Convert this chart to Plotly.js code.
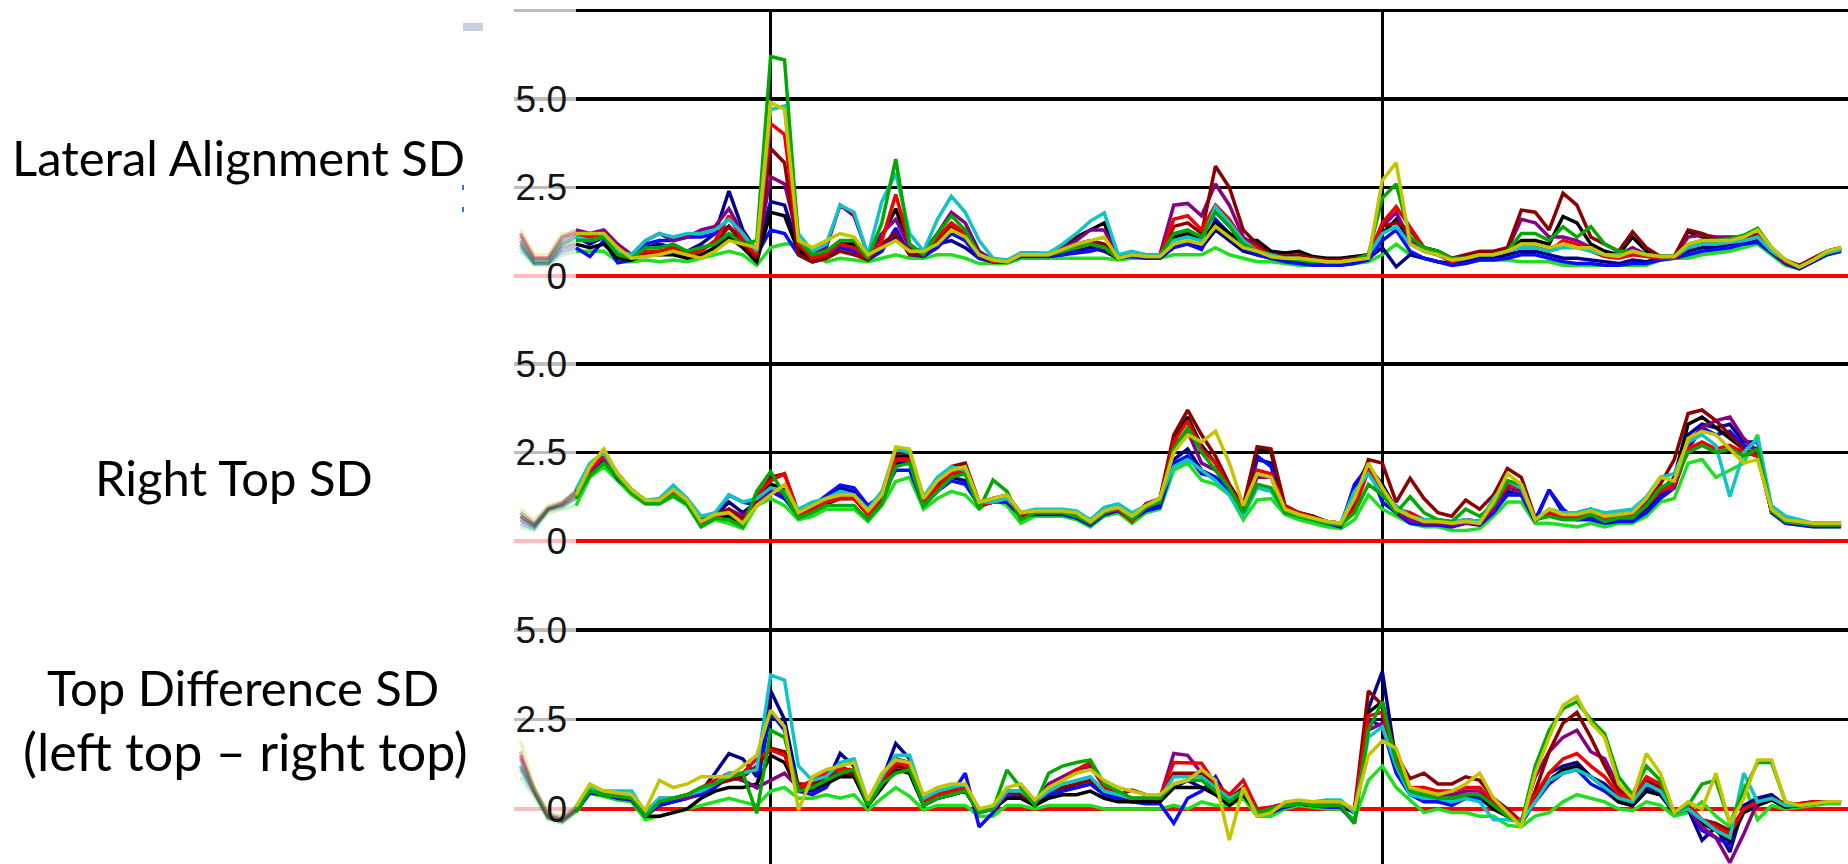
<!DOCTYPE html>
<html>
<head>
<meta charset="utf-8">
<script src="https://cdn.plot.ly/plotly-3.0.1.min.js"></script>
<style>
html,body{margin:0;padding:0;background:#fff;}
#chart{width:1848px;height:864px;}
</style>
</head>
<body>
<div id="chart"></div>
<script>
// Sample index: -4 .. 91 (first 5 samples lie in the faded left margin)
const sampleStart = -4, sampleCount = 96;
const panelTitles = ['Lateral Alignment SD', 'Right Top SD', 'Top Difference SD', '(left top \u2013 right top)'];
const tickVals = [0, 2.5, 5, 7.5];
const tickText = ['0', '2.5', '5.0', ''];
const markerSamples = [14, 58];

// ---------- Panel 1: Lateral Alignment SD ----------
const p1_navy = [1.0,.4,.4,.9,1.1,.9,1.1,.6,.5,.8, .9,.8,.7,.9,1.2,2.4,1.3,.7,2.1,2.0, .8,.5,.6,.9,.8,.5,.8,1.1,.7,.6, .9,1.0,.8,.5,.4,.4,.6,.6,.55,.6, .7,.8,.7,.5,.6,.55,.55,.9,.9,.8, 1.3,1.0,.7,.6,.5,.45,.4,.35,.35,.35, .4,.5,.8,.26,.6,.5,.4,.35,.4,.5, .5,.6,.7,.7,.6,.5,.5,.45,.4,.35, .45,.4,.5,.55,.7,.8,.8,.9,.9,1.0, .7,.4,.25,.45,.65,.75];
const p1_blue = [.8,.35,.35,.7,.8,.55,1.0,.37,.45,.9, 1.0,1.0,1.1,1.1,1.2,1.4,1.0,.6,1.3,1.2, .6,.4,.5,.8,.7,.45,.7,1.35,.6,.55, .8,1.2,1.0,.5,.4,.4,.55,.55,.55,.6, .65,.7,.8,.5,.55,.5,.5,.8,.9,.75, 1.6,1.2,.8,.6,.5,.4,.35,.3,.3,.3, .35,.45,1.0,1.3,.7,.5,.4,.3,.35,.45, .45,.5,.6,.6,.5,.4,.35,.35,.3,.3, .35,.35,.45,.5,.6,.7,.75,.8,.9,.95, .65,.35,.2,.4,.6,.7];
const p1_darkred = [1.2,.5,.5,1.1,1.2,1.1,1.2,.8,.5,.6, .6,.7,.6,.8,.9,1.4,.9,.5,3.6,3.2, .6,.4,.5,.7,.6,.45,.9,1.2,.6,.6, 1.0,1.4,1.1,.6,.4,.4,.6,.6,.6,.7, .9,1.0,.9,.5,.6,.55,.55,1.4,1.5,1.2, 3.1,2.5,1.3,.9,.6,.55,.6,.5,.45,.45, .5,.6,1.4,1.5,1.3,.8,.7,.5,.6,.7, .7,.8,1.86,1.8,1.3,2.34,2.0,1.1,.9,.7, 1.25,.8,.55,.55,1.3,1.2,1.05,1.0,1.1,1.2, .75,.45,.3,.5,.7,.8];
const p1_red = [1.1,.5,.5,1.0,1.2,1.1,1.2,.7,.5,.7, .7,.8,.6,.7,1.0,1.7,1.0,.6,4.3,4.0, .9,.5,.6,.9,.8,.5,1.0,2.3,.9,.6, 1.1,1.5,1.2,.6,.4,.4,.6,.6,.6,.7, .8,.9,.8,.5,.6,.55,.55,1.6,1.7,1.3, 2.0,1.6,1.0,.8,.55,.5,.5,.45,.4,.4, .45,.55,1.5,1.96,1.39,.8,.6,.4,.5,.6, .6,.7,.9,.9,.7,1.0,.9,.7,.55,.5, .6,.55,.5,.5,.8,.9,.9,.95,1.0,1.1, .7,.4,.25,.45,.65,.75];
const p1_green = [.9,.4,.45,.9,1.0,1.0,1.1,.6,.5,.8, .8,.9,.7,.8,.9,1.2,.9,1.0,6.2,6.1, 1.0,.6,.7,1.0,1.0,.5,1.5,3.3,.9,.6, 1.2,1.7,1.3,.6,.45,.4,.6,.6,.6,.7, .8,.9,.8,.5,.6,.55,.55,1.2,1.3,1.1, 1.8,1.4,.9,.7,.55,.5,.45,.4,.4,.4, .45,.6,2.2,2.6,1.1,.8,.7,.5,.5,.6, .6,.7,1.2,1.2,1.0,1.39,1.1,1.39,.9,.7, .7,.6,.55,.55,.9,1.0,1.0,1.05,1.15,1.35, .8,.45,.25,.45,.7,.8];
const p1_lime = [.7,.3,.3,.6,.7,.7,.7,.4,.4,.45, .4,.45,.4,.5,.6,.7,.6,.3,.8,.9, .9,.6,.4,.5,.45,.4,.5,.6,.5,.5, .6,.6,.5,.35,.35,.35,.5,.5,.5,.5, .5,.5,.5,.45,.5,.5,.5,.6,.6,.6, .8,.6,.5,.4,.4,.35,.3,.3,.3,.3, .35,.4,.6,.9,.6,.5,.4,.35,.4,.45, .45,.45,.4,.4,.4,.3,.3,.3,.3,.3, .3,.3,.45,.5,.5,.6,.65,.7,.8,.9, .6,.3,.2,.4,.6,.7];
const p1_cyan = [1.0,.4,.4,1.0,1.1,1.0,1.1,.7,.6,1.0, 1.2,1.1,1.2,1.2,1.3,1.6,1.2,.7,4.7,4.8, 1.2,.7,.9,2.0,1.8,.6,2.1,2.9,1.2,.7, 1.6,2.25,1.8,1.0,.5,.45,.65,.65,.65,.9, 1.2,1.55,1.78,.6,.7,.6,.6,1.0,1.1,1.0, 1.96,1.5,1.0,.7,.6,.5,.5,.45,.4,.4, .45,.6,1.2,1.4,.9,.7,.6,.45,.5,.6, .6,.7,.8,.8,.7,.8,.8,.7,.6,.6, .7,.6,.55,.55,.8,.9,.9,.95,1.0,1.1, .7,.45,.25,.45,.65,.75];
const p1_purple = [1.2,.5,.5,1.1,1.3,1.2,1.3,.9,.6,1.0, 1.2,1.0,1.1,1.3,1.4,1.9,1.2,.6,2.8,2.6, 1.0,.6,.8,2.0,1.7,.6,1.2,1.6,.8,.7, 1.2,1.8,1.5,.7,.45,.4,.65,.65,.6,.8, 1.0,1.3,1.3,.55,.65,.6,.6,2.0,2.05,1.7, 2.6,2.0,1.1,.8,.6,.55,.55,.5,.45,.45, .5,.6,1.4,1.8,1.0,.8,.7,.5,.55,.65, .65,.75,1.6,1.5,1.1,1.1,1.0,.8,.6,.6, .8,.6,.55,.55,1.1,1.16,1.1,1.1,1.1,1.15, .75,.45,.28,.5,.7,.8];
const p1_black = [.9,.35,.35,.8,.9,.8,.9,.5,.45,.6, .6,.6,.5,.6,.8,1.1,.8,.4,1.8,1.7, .7,.5,.6,.9,.9,.5,1.1,1.9,.8,.6, 1.1,1.4,1.2,.6,.4,.4,.6,.6,.6,.8, 1.1,1.3,1.5,.5,.6,.55,.55,1.1,1.2,1.0, 1.5,1.2,1.0,1.0,.7,.65,.7,.55,.5,.5, .55,.6,1.2,1.6,1.0,.7,.6,.45,.5,.6, .6,.7,1.0,1.0,.9,1.68,1.5,.9,.7,.6, 1.1,.7,.55,.55,1.25,1.1,1.0,1.0,1.05,1.1, .7,.4,.25,.45,.65,.75];
const p1_yellow = [1.3,.6,.6,1.2,1.2,1.2,1.2,.8,.5,.55, .6,.7,.6,.5,.7,1.0,.9,.8,4.9,4.7, 1.0,.8,1.0,1.2,1.1,.6,.8,1.0,.7,.7, .9,1.3,1.1,.6,.45,.4,.6,.6,.6,.75, .9,1.0,1.1,.5,.6,.55,.55,.9,1.0,.9, 1.4,1.1,.8,.7,.55,.5,.5,.45,.4,.4, .45,.5,2.7,3.2,.9,.7,.6,.45,.5,.6, .6,.7,.9,.9,.8,.9,.8,.8,.6,.55, .7,.6,.55,.55,.9,1.0,1.0,1.0,1.1,1.3, .8,.45,.25,.45,.7,.8];

// ---------- Panel 2: Right Top SD ----------
const p2_navy = [.6,.4,.9,1.0,1.2,2.0,2.4,1.8,1.4,1.1, 1.1,1.35,1.1,.6,.7,1.1,.8,1.1,1.5,1.2, .8,1.0,1.2,1.5,1.4,.9,1.2,2.2,2.2,1.1, 1.5,1.8,1.7,1.0,1.2,1.1,.7,.8,.8,.8, .7,.5,.8,.9,.7,.9,1.0,2.3,2.6,2.0, 1.8,1.5,.9,2.3,2.2,.9,.75,.65,.5,.45, 1.5,2.2,1.3,.9,.6,.5,.5,.5,.6,.5, .9,1.4,1.3,.6,1.44,.8,.7,.7,.55,.6, .6,.9,1.3,1.6,3.0,3.3,3.2,3.3,2.8,2.8, .85,.55,.5,.45,.45,.45];
const p2_blue = [.5,.35,.9,1.0,1.3,1.9,2.3,1.75,1.4,1.1, 1.1,1.3,1.1,.5,.7,1.3,1.1,1.0,1.4,1.2, .7,1.0,1.3,1.58,1.5,1.0,1.3,2.0,2.0,1.0, 1.4,1.7,1.6,1.0,1.1,1.1,.7,.75,.75,.75, .65,.45,.75,.85,.6,.85,.95,2.2,2.4,1.9, 1.8,1.4,.8,2.4,2.1,.85,.7,.6,.5,.4, 1.6,2.1,1.1,.8,.5,.45,.45,.4,.5,.45, .8,1.3,1.3,.55,1.44,.9,.6,.6,.5,.55, .55,.8,1.2,1.5,2.8,3.2,3.0,3.1,2.7,2.6, .8,.5,.45,.4,.4,.4];
const p2_darkred = [.8,.5,.95,1.1,1.4,2.1,2.5,1.9,1.45,1.15, 1.15,1.4,1.1,.55,.75,.9,.6,1.2,1.8,1.9, .8,.9,1.1,1.3,1.3,.8,1.2,2.5,2.5,1.2, 1.6,2.1,2.2,1.1,1.2,1.3,.8,.85,.85,.85, .8,.55,.85,.9,.6,1.05,1.2,3.0,3.7,3.0, 2.4,1.6,1.0,2.66,2.6,1.0,.8,.7,.55,.5, 1.1,2.3,2.2,1.1,1.77,1.2,.8,.7,1.16,.9, 1.3,2.05,1.8,.65,.7,.7,.8,.9,.7,.75, .8,1.1,1.6,2.3,3.6,3.7,3.4,3.0,2.6,2.4, .9,.6,.55,.5,.5,.5];
const p2_red = [.7,.45,.9,1.05,1.35,2.0,2.4,1.85,1.4,1.1, 1.1,1.4,1.15,.5,.7,.8,.5,1.3,1.7,1.9, .75,.85,1.1,1.2,1.2,.75,1.1,2.3,2.3,1.1, 1.5,1.9,2.0,1.0,1.1,1.2,.75,.85,.85,.85, .75,.5,.8,.9,.55,1.0,1.1,2.8,3.4,2.6, 2.2,1.5,.9,2.0,1.9,.95,.8,.65,.55,.5, .9,2.0,1.5,.9,.8,.6,.55,.5,.6,.55, 1.0,1.6,1.5,.6,.8,.7,.7,.8,.6,.7, .7,1.0,1.4,1.6,2.6,2.8,2.6,2.7,2.5,2.4, .85,.55,.5,.45,.45,.45];
const p2_green = [.6,.4,.85,.95,1.2,1.85,2.2,1.8,1.35,1.05, 1.05,1.3,1.05,.4,.65,.6,.4,1.4,1.96,1.3, .65,.8,1.0,1.0,1.0,.6,1.05,2.1,2.2,1.0, 1.4,1.8,1.9,.9,1.72,1.4,.6,.8,.8,.8, .7,.5,.8,.95,.6,.95,1.1,2.6,3.2,2.5, 2.0,1.5,.8,1.6,1.5,.8,.7,.6,.5,.45, .8,1.6,1.3,.8,1.25,.8,.6,.55,.9,.7, 1.0,1.7,1.6,.6,.7,.6,.6,.75,.55,.65, .65,1.0,1.5,1.7,2.5,2.7,2.5,2.6,2.4,2.6, .85,.55,.5,.45,.45,.45];
const p2_lime = [.4,.3,.8,.9,1.0,1.8,2.1,1.7,1.3,1.05, 1.05,1.25,1.0,.4,.6,.5,.35,1.0,1.2,1.0, .6,.7,.9,.9,.9,.55,1.0,1.68,1.8,.9, 1.2,1.4,1.3,.9,1.2,1.0,.5,.7,.7,.7, .6,.4,.7,.8,.5,.8,.9,2.0,2.2,1.72, 1.6,1.3,.6,1.16,1.2,.75,.6,.5,.4,.35, .6,1.3,.9,.7,.5,.4,.4,.3,.3,.35, .7,1.1,1.1,.5,.5,.45,.4,.5,.4,.5, .5,.7,1.1,1.2,2.2,2.3,1.8,2.0,2.2,3.0, .8,.5,.45,.4,.4,.4];
const p2_cyan = [.8,.5,.95,1.05,1.45,2.2,2.5,1.85,1.45,1.15, 1.2,1.58,1.2,.7,.8,1.3,1.1,1.2,1.5,1.4, .9,1.1,1.2,1.4,1.3,.9,1.4,2.6,2.5,1.25, 1.8,2.1,2.0,1.1,1.1,1.2,.8,.9,.9,.9, .85,.6,.95,1.05,.8,1.0,1.2,2.1,2.3,2.0, 1.7,1.3,.7,1.5,1.4,.8,.7,.6,.55,.5, 1.4,1.9,1.3,1.0,.7,.6,.6,.55,.6,.55, 1.2,1.7,1.5,.6,.9,.8,.8,.9,.8,.85, .9,1.25,1.8,1.9,2.8,3.0,2.7,1.25,2.5,2.9, 1.0,.7,.6,.5,.5,.5];
const p2_purple = [.7,.45,.9,1.05,1.3,2.0,2.4,1.8,1.4,1.1, 1.1,1.35,1.1,.5,.7,.9,.7,1.1,1.5,1.3, .75,.9,1.1,1.2,1.2,.8,1.2,2.3,2.3,1.1, 1.5,1.9,1.9,1.0,1.1,1.2,.7,.8,.8,.8, .7,.5,.8,.9,.6,.95,1.1,2.7,3.1,2.2, 2.0,1.5,.9,1.8,1.8,.9,.75,.65,.5,.45, 1.0,2.0,1.4,.8,.6,.5,.5,.45,.5,.5, .9,1.5,1.4,.6,.8,.7,.7,.8,.6,.7, .7,1.0,1.4,1.5,2.6,3.2,3.4,3.5,2.9,2.5, .85,.55,.5,.45,.45,.45];
const p2_black = [.7,.45,.9,1.05,1.4,2.05,2.4,1.85,1.4,1.1, 1.1,1.3,1.05,.45,.65,.7,.5,1.2,1.6,1.5, .7,.85,1.05,1.2,1.2,.75,1.15,2.4,2.4,1.1, 1.5,2.0,2.0,1.0,1.1,1.2,.75,.8,.8,.8, .75,.5,.8,.9,.6,1.0,1.15,2.9,3.5,2.7, 2.2,1.5,.9,2.6,2.5,.95,.8,.7,.55,.5, 1.0,2.1,1.6,.9,.7,.6,.6,.5,.6,.55, 1.0,1.6,1.5,.6,.8,.7,.7,.8,.6,.7, .7,1.0,1.4,1.8,3.3,3.5,3.2,2.9,2.6,2.4, .85,.55,.5,.45,.45,.45];
const p2_yellow = [.9,.6,1.0,1.1,1.3,2.1,2.6,1.9,1.45,1.15, 1.15,1.45,1.15,.55,.75,.8,.5,1.0,1.3,1.6, .8,1.0,1.2,1.3,1.3,.85,1.3,2.66,2.6,1.2, 1.7,2.0,2.1,1.1,1.2,1.3,.8,.85,.85,.85, .8,.55,.85,.95,.7,1.0,1.2,2.5,3.0,2.8, 3.1,2.2,1.0,1.9,1.8,.9,.75,.65,.55,.5, 1.2,2.2,1.5,.9,.7,.55,.55,.5,.55,.5, 1.1,1.9,1.6,.6,.9,.75,.75,.85,.7,.75, .8,1.2,1.8,1.7,2.9,3.1,3.0,2.6,2.2,2.3, .9,.6,.55,.5,.5,.5];

// ---------- Panel 3: Top Difference SD ----------
const p3_navy = [1.4,.5,-.2,-.3,0,.5,.4,.35,.3,-.15, .1,.2,.3,.5,1.0,1.55,1.4,.9,3.3,2.5, .6,.5,.7,1.55,1.2,.1,.8,1.83,1.4,.1, .3,.4,.5,-.1,0,.5,.4,.1,.5,.6, .6,.7,.4,.3,.2,.2,.2,.6,.8,.6, .5,.2,.5,-.1,0,.1,.15,.1,.1,.1, -.1,2.8,3.84,1.3,.5,.3,.2,.2,.3,.4, .1,-.2,-.35,.3,1.0,1.2,1.3,.9,.7,.3, .2,.6,.5,-.1,0,-.87,-.5,-1.2,.1,.3, .4,.1,.1,.15,.2,.2];
const p3_blue = [1.1,.4,-.25,-.35,-.05,.45,.4,.3,.25,-.2, .1,.2,.3,.4,.6,.9,.8,.6,2.7,2.2, .5,.4,.6,1.2,1.0,.1,.6,1.3,1.0,.1, .3,.4,1.0,-.5,-.1,.4,.3,.1,.4,.5, .6,.7,.4,.3,.2,.15,.15,-.4,.3,.5, .9,.2,.4,-.1,-.1,.05,.15,.1,.05,.05, -.4,2.5,2.3,1.0,.4,.2,.2,.1,.3,.3, 0,-.2,-.4,.2,.7,1.0,1.1,.7,.5,.2, .1,.5,.4,-.1,0,-.6,-.8,-1.0,0,.2, .3,.1,.1,.15,.2,.2];
const p3_darkred = [1.6,.55,-.15,-.25,.05,.6,.45,.4,.35,-.1, .3,.3,.4,.5,.7,.8,.9,1.2,1.7,1.6, .7,.7,.9,1.0,1.0,.2,.7,1.2,1.1,.2, .4,.5,.6,0,.05,.5,.4,.15,.5,.6, .7,.8,.5,.4,.53,.4,.35,1.0,1.0,1.0, .6,.3,.6,0,.05,.15,.2,.15,.15,.15, 0,3.3,2.9,1.5,.85,1.0,.7,.7,.9,.8, .3,0,-.35,.5,1.6,2.4,2.7,2.0,1.2,.5, .3,.8,.6,-.1,.1,-.3,-.4,-.6,0,.2, .3,.15,.15,.2,.2,.2];
const p3_red = [1.5,.5,-.2,-.3,0,.55,.45,.4,.3,-.1, .2,.3,.4,.6,.8,1.0,1.0,1.4,1.65,1.5, .6,.8,1.0,1.1,1.1,.2,.8,1.3,1.2,.2, .4,.5,.6,0,0,.5,.5,.2,.6,.8, 1.1,1.3,.6,.4,.3,.3,.3,1.3,1.3,1.28, .7,.4,.8,0,.05,.15,.2,.15,.15,.15, 0,2.6,2.7,1.4,.6,.6,.5,.5,.6,.6, .2,-.1,-.35,.4,1.0,1.4,1.55,1.2,.9,.4, .3,.9,.7,-.1,.1,-.3,-.5,-.7,0,.2, .3,.15,.15,.2,.2,.2];
const p3_green = [1.2,.45,-.25,-.35,-.05,.5,.4,.35,.3,-.2, .2,.3,.4,.6,.7,.9,1.0,-.12,2.2,2.0, .5,.6,.8,1.0,1.1,.1,.7,1.0,1.1,.1, .3,.4,.5,-.1,0,1.09,.6,.1,1.0,1.2, 1.3,1.37,.7,.5,.3,.3,.3,.7,.8,.8, .5,.2,.5,-.1,0,.1,.15,.1,.1,.1, -.4,2.2,3.0,1.3,.5,.4,.3,.3,.4,.4, .1,-.2,-.4,1.2,2.2,2.8,3.0,2.5,2.1,.9, .4,1.2,.8,-.1,.1,.7,.8,-.4,.5,1.3, 1.3,.2,.1,.15,.2,.2];
const p3_lime = [.9,.35,-.3,-.4,-.1,.44,.35,.25,.2,-.3, -.2,-.1,0,.1,.2,.3,.2,.1,.5,.6, .3,.3,.4,.3,.4,-.03,.3,.6,.35,-.03, .1,.1,.1,-.2,-.2,.1,.1,0,.1,.1, .1,.1,0,0,0,0,0,.1,0,.2, .1,.1,.3,-.2,-.2,0,.1,.05,0,0, -.3,.8,1.2,.6,.25,-.1,0,-.1,-.1,-.2, -.2,-.45,-.5,-.2,-.1,.2,.4,.3,.2,0, -.05,.2,.1,-.2,-.1,.2,-.2,-.5,.7,-.3, .1,0,.05,.1,.15,.15];
const p3_cyan = [1.3,.6,-.15,-.25,.05,.6,.5,.5,.5,-.1, .3,.3,.4,.5,.7,1.0,1.0,1.1,3.74,3.6, 1.2,.8,.9,1.3,1.4,.2,.9,1.5,1.5,.3, .5,.6,.7,-.1,0,.5,.5,.2,.5,.7, .8,.9,.5,.4,.3,.3,.3,.9,.9,.9, .6,.3,.5,-.1,0,.1,.15,.2,.25,.25, -.1,2.0,2.3,1.2,.4,.3,.3,.2,.3,.2, -.3,-.3,-.35,.2,.8,1.0,1.1,.9,.6,.3, .2,.7,.5,-.1,0,-.3,-.6,-.8,1.0,.2, .3,.1,.1,.15,.2,.2];
const p3_purple = [1.5,.55,-.2,-.3,0,.55,.45,.4,.35,-.1, .2,.3,.3,.5,.7,.9,.8,.6,.8,1.0, .6,.7,.8,1.0,1.0,.2,.8,1.4,1.3,.2, .4,.5,.6,-.05,0,.4,.5,.2,.7,.9, 1.1,1.2,.6,.4,.3,.3,.3,1.55,1.5,1.0, .7,.2,.5,0,0,.1,.15,.1,.1,.1, 0,2.2,2.4,1.4,.5,.4,.4,.4,.5,.5, .1,-.1,-.35,.9,1.6,2.0,2.2,1.6,1.4,.6, .3,.8,.6,-.1,0,-.5,-.8,-1.5,-.7,.2, .3,.1,.1,.15,.2,.2];
const p3_black = [1.2,.45,-.25,-.35,-.05,.5,.4,.35,.3,-.2, -.2,-.1,0,.3,.5,.6,.6,.7,1.5,1.3, .5,.6,.7,.9,.9,.1,.6,1.1,1.0,.1, .3,.4,.5,-.1,0,.3,.3,.1,.3,.4, .4,.5,.3,.2,.2,.2,.2,.6,.6,.6, .4,.1,.4,-.1,0,.1,.15,.1,.1,.1, -.1,2.7,3.0,1.3,.5,.4,.3,.3,.4,.4, 0,-.2,-.4,.3,.8,1.1,1.2,.9,.6,.2, .1,.5,.4,-.1,0,-.4,-.6,-.9,-.1,.1, .25,.05,.1,.15,.2,.2];
const p3_yellow = [1.9,.6,-.1,-.2,.07,.7,.5,.45,.4,-.03, .8,.6,.7,.9,.9,.9,1.2,1.5,2.76,2.3, -.03,.9,1.1,1.2,1.3,.25,1.0,1.37,1.3,.4, .6,.7,.7,0,.1,.6,.7,.25,.6,.8, 1.0,1.1,.8,.6,.5,.4,.4,.7,.8,1.1, .8,-.87,.6,-.2,-.1,.2,.25,.2,.2,.2, 0,1.5,1.9,1.7,.6,.5,.4,.5,.7,1.0, .3,-.1,-.5,1.0,2.0,2.9,3.14,2.4,2.0,.7, .3,1.55,1.0,-.1,.2,0,1.0,-.4,.3,1.37, 1.37,.2,.1,.15,.2,.2];

const seriesColors = {
  lime: '#1fe01f', navy: '#00008c', blue: '#0a0aff', black: '#000000', purple: '#850085',
  darkred: '#8c0000', red: '#f00000', cyan: '#10c4c4', green: '#00a800', yellow: '#c4c400'
};
const drawOrder = ['lime','navy','blue','black','purple','darkred','red','cyan','green','yellow'];
const panelData = [
  {lime:p1_lime,navy:p1_navy,blue:p1_blue,black:p1_black,purple:p1_purple,darkred:p1_darkred,red:p1_red,cyan:p1_cyan,green:p1_green,yellow:p1_yellow},
  {lime:p2_lime,navy:p2_navy,blue:p2_blue,black:p2_black,purple:p2_purple,darkred:p2_darkred,red:p2_red,cyan:p2_cyan,green:p2_green,yellow:p2_yellow},
  {lime:p3_lime,navy:p3_navy,blue:p3_blue,black:p3_black,purple:p3_purple,darkred:p3_darkred,red:p3_red,cyan:p3_cyan,green:p3_green,yellow:p3_yellow}
];

const W = 1848, H = 864;
const samples = Array.from({length: sampleCount}, (_, k) => sampleStart + k);
const xRange = [-4.46, 91.5];
const plotLeft = 514;
const panelPx = [[9, 320], [320, 590], [590, 864]];
const panelRanges = [[-1.243, 7.54], [-1.384, 6.243], [-1.536, 6.117]];
const fadeSplit = 4; // index of sample 0

const traces = [];
panelData.forEach((pd, p) => {
  const xa = p === 0 ? 'x' : 'x' + (p + 1);
  const ya = p === 0 ? 'y' : 'y' + (p + 1);
  drawOrder.forEach(name => {
    const vals = pd[name];
    traces.push({type:'scatter', mode:'lines', xaxis:xa, yaxis:ya,
      x: samples.slice(0, fadeSplit + 1), y: vals.slice(0, fadeSplit + 1),
      line:{color:seriesColors[name], width:3.5}, opacity:0.25, hoverinfo:'skip'});
    traces.push({type:'scatter', mode:'lines', xaxis:xa, yaxis:ya,
      x: samples.slice(fadeSplit), y: vals.slice(fadeSplit),
      line:{color:seriesColors[name], width:3.5}, hoverinfo:'skip'});
  });
});

const layout = {
  width: W, height: H, margin:{l:0,r:0,t:0,b:0}, showlegend:false,
  paper_bgcolor:'#ffffff', plot_bgcolor:'rgba(0,0,0,0)', hovermode:false,
  annotations: [], shapes: []
};
const tickFont = {family:'Liberation Sans Narrow, Arial Narrow, Liberation Sans, Arial, sans-serif', size:37, color:'#151515'};
panelPx.forEach((pp, p) => {
  const xk = p === 0 ? 'xaxis' : 'xaxis' + (p + 1);
  const yk = p === 0 ? 'yaxis' : 'yaxis' + (p + 1);
  const ya = p === 0 ? 'y' : 'y' + (p + 1);
  const xa = p === 0 ? 'x' : 'x' + (p + 1);
  layout[xk] = {domain:[plotLeft / W, 1], range:xRange, anchor:ya, tickvals:markerSamples,
    showticklabels:false, ticks:'', showgrid:true, gridcolor:'#000000', gridwidth:3,
    zeroline:false, showline:false, fixedrange:true};
  layout[yk] = {domain:[1 - pp[1] / H, 1 - pp[0] / H], range:panelRanges[p], anchor:'free',
    position: 567 / W, tickvals: p === 0 ? tickVals : tickVals.slice(0, 3),
    ticktext: p === 0 ? tickText : tickText.slice(0, 3),
    ticks:'', showline:false, showgrid:true, gridcolor:'#000000', gridwidth:3.5,
    zeroline:true, zerolinecolor:'#ff0000', zerolinewidth:4,
    tickfont: tickFont, fixedrange:true};
  // fade veil over the left margin (between grid and traces)
  layout.shapes.push({type:'rect', layer:'between', xref:xa, yref:ya,
    x0:xRange[0], x1:0, y0:panelRanges[p][0], y1:panelRanges[p][1],
    fillcolor:'rgba(255,255,255,0.74)', line:{width:0}});
});

// small artefacts near the left edge of the plot
layout.shapes.push({type:'rect', layer:'above', xref:'paper', yref:'paper',
  x0:463/W, x1:483/W, y0:1-31/H, y1:1-23/H, fillcolor:'#c9cde0', line:{width:0}});
layout.shapes.push({type:'rect', layer:'above', xref:'paper', yref:'paper',
  x0:462/W, x1:464/W, y0:1-190/H, y1:1-185/H, fillcolor:'#3a78d0', line:{width:0}});
layout.shapes.push({type:'rect', layer:'above', xref:'paper', yref:'paper',
  x0:462/W, x1:464/W, y0:1-212/H, y1:1-207/H, fillcolor:'#3a78d0', line:{width:0}});

const labelFont = {family:'Lato, Noto Sans, sans-serif', size:49, color:'#000000'};
const labelPos = [[238, 157], [234, 477], [243, 687], [245, 751]];
panelTitles.forEach((t, k) => {
  const f = k === 3 ? Object.assign({}, labelFont, {size:52}) : labelFont;
  layout.annotations.push({text:t, xref:'paper', yref:'paper', x:labelPos[k][0] / W,
    y:1 - labelPos[k][1] / H, xanchor:'center', yanchor:'middle', showarrow:false, font:f});
});

Plotly.newPlot('chart', traces, layout, {staticPlot:true, displayModeBar:false});
</script>
</body>
</html>
